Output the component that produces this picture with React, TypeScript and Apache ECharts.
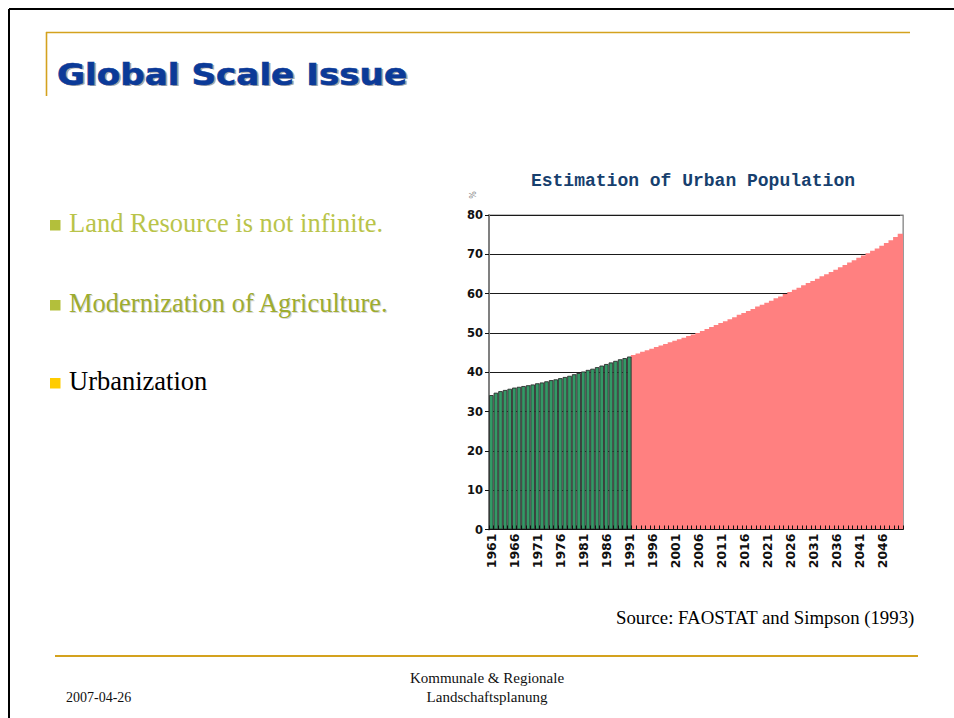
import React, { useEffect, useRef } from "react";
import * as echarts from "echarts";

// Years on the category axis, 1961–2050
const years: string[] = [];
for (let y = 1961; y <= 2050; y++) years.push(String(y));

// Urban share of world population (%), recorded 1961–1991
const urbanObserved = [
  34.2, 34.8, 35.2, 35.5, 35.8, 36.1, 36.3, 36.5, 36.7, 36.9,
  37.2, 37.4, 37.7, 38.0, 38.2, 38.5, 38.8, 39.1, 39.5, 39.8,
  40.2, 40.6, 40.9, 41.3, 41.7, 42.1, 42.5, 42.9, 43.3, 43.6,
  44.0,
];

// Projected urban share (%), 1992–2050
const urbanProjected = [
  44.4, 44.8, 45.2, 45.6, 46.0, 46.4, 46.8, 47.2, 47.6, 48.0,
  48.4, 48.8, 49.2, 49.6, 50.0, 50.5, 51.0, 51.5, 52.0, 52.5,
  53.0, 53.5, 54.0, 54.6, 55.1, 55.6, 56.1, 56.7, 57.2, 57.7,
  58.2, 58.8, 59.3, 59.9, 60.4, 61.0, 61.5, 62.1, 62.7, 63.2,
  63.8, 64.4, 64.9, 65.5, 66.1, 66.7, 67.3, 67.9, 68.5, 69.1,
  69.7, 70.3, 70.9, 71.5, 72.2, 72.9, 73.6, 74.4, 75.2,
];

const bullets = [
  "Land Resource is not infinite.",
  "Modernization of Agriculture.",
  "Urbanization",
];

const GOLD = "#D4A21E";

export default function App() {
  const ref = useRef<HTMLDivElement>(null);

  useEffect(() => {
    if (!ref.current) return;
    const chart = echarts.init(ref.current, undefined, { renderer: "svg" });

    const observedData = years.map((_, i) =>
      i < urbanObserved.length ? urbanObserved[i] : "-"
    );
    const projectedData = years.map((_, i) =>
      i >= urbanObserved.length ? urbanProjected[i - urbanObserved.length] : "-"
    );

    const axisFont = {
      fontFamily: "DejaVu Sans",
      fontWeight: "bold" as const,
      fontSize: 11,
      color: "#111",
    };

    const bulletBaselines = [232, 312, 390];
    const bulletSquareColors = ["#B3BF3B", "#B3BF3B", "#FFCC00"];
    const bulletTextColors = ["#B9C44A", "#9DAC30", "#000000"];

    const graphic: any[] = [
      // slide frame
      {
        type: "line",
        shape: { x1: 9, y1: 9, x2: 954, y2: 9 },
        style: { stroke: "#000", lineWidth: 2 },
      },
      {
        type: "line",
        shape: { x1: 9, y1: 9, x2: 9, y2: 718 },
        style: { stroke: "#000", lineWidth: 2 },
      },
      // gold header rule
      {
        type: "line",
        shape: { x1: 46, y1: 32.5, x2: 910, y2: 32.5 },
        style: { stroke: GOLD, lineWidth: 1.6 },
      },
      {
        type: "line",
        shape: { x1: 46.5, y1: 32, x2: 46.5, y2: 96 },
        style: { stroke: GOLD, lineWidth: 1.6 },
      },
      // slide title with drop shadow
      {
        type: "text",
        x: 59,
        y: 76,
        scaleX: 1.14,
        style: {
          text: "Global Scale Issue",
          font: "bold 30px 'DejaVu Sans'",
          fill: "#A8A8A8",
          verticalAlign: "middle",
        },
      },
      {
        type: "text",
        x: 57,
        y: 74.5,
        scaleX: 1.14,
        style: {
          text: "Global Scale Issue",
          font: "bold 30px 'DejaVu Sans'",
          fill: "#0B3A98",
          stroke: "#0B3A98",
          lineWidth: 0.6,
          verticalAlign: "middle",
        },
      },
      // footer rule and texts
      {
        type: "line",
        shape: { x1: 55, y1: 656, x2: 918, y2: 656 },
        style: { stroke: GOLD, lineWidth: 2 },
      },
      {
        type: "text",
        x: 66,
        y: 697,
        style: {
          text: "2007-04-26",
          font: "14px 'Liberation Serif'",
          fill: "#111",
          verticalAlign: "middle",
        },
      },
      {
        type: "text",
        x: 487,
        y: 678,
        style: {
          text: "Kommunale & Regionale",
          font: "15px 'Liberation Serif'",
          fill: "#111",
          align: "center",
          verticalAlign: "middle",
        },
      },
      {
        type: "text",
        x: 487,
        y: 697,
        style: {
          text: "Landschaftsplanung",
          font: "15px 'Liberation Serif'",
          fill: "#111",
          align: "center",
          verticalAlign: "middle",
        },
      },
      // source note
      {
        type: "text",
        x: 616,
        y: 617,
        style: {
          text: "Source: FAOSTAT and Simpson (1993)",
          font: "18.8px 'Liberation Serif'",
          fill: "#000",
          verticalAlign: "middle",
        },
      },
      // chart title
      {
        type: "text",
        x: 693,
        y: 181,
        style: {
          text: "Estimation of Urban Population",
          font: "bold 18px 'Liberation Mono'",
          fill: "#173F6E",
          align: "center",
          verticalAlign: "middle",
        },
      },
      // unit mark above the value axis
      {
        type: "text",
        x: 473,
        y: 195,
        rotation: Math.PI / 2,
        style: {
          text: "%",
          font: "8px 'DejaVu Sans'",
          fill: "#888",
          align: "center",
          verticalAlign: "middle",
        },
      },
    ];

    bullets.forEach((label, i) => {
      const base = bulletBaselines[i];
      graphic.push({
        type: "rect",
        shape: { x: 50, y: base - 12, width: 10.5, height: 10.5 },
        style: { fill: bulletSquareColors[i] },
      });
      if (i === 1) {
        graphic.push({
          type: "text",
          x: 70,
          y: base - 8,
          style: {
            text: label,
            font: "26.5px 'Liberation Serif'",
            fill: "#D8D8D8",
            verticalAlign: "middle",
          },
        });
      }
      graphic.push({
        type: "text",
        x: 69,
        y: base - 9,
        style: {
          text: label,
          font: "26.5px 'Liberation Serif'",
          fill: bulletTextColors[i],
          verticalAlign: "middle",
        },
      });
    });

    chart.setOption({
      animation: false,
      backgroundColor: "#ffffff",
      grid: {
        left: 489,
        right: 51,
        top: 215,
        bottom: 188.5,
        show: true,
        borderColor: "#808080",
        borderWidth: 1,
        containLabel: false,
      },
      xAxis: [
        {
          type: "category",
          data: years,
          boundaryGap: true,
          axisLine: { lineStyle: { color: "#111", width: 1 } },
          axisTick: {
            show: true,
            inside: true,
            length: 4,
            interval: 0,
            lineStyle: { color: "#111" },
          },
          axisLabel: {
            ...axisFont,
            fontSize: 12.5,
            interval: 4,
            rotate: 90,
            margin: 4,
          },
          splitLine: { show: false },
          z: 5,
        },
        {
          // same categories, used only to lay out the projected bars
          type: "category",
          data: years,
          boundaryGap: true,
          show: false,
        },
      ],
      yAxis: [
        {
          type: "value",
          min: 0,
          max: 80,
          interval: 10,
          axisLine: { show: true, lineStyle: { color: "#808080", width: 2 } },
          axisTick: { show: true, length: 4, lineStyle: { color: "#111" } },
          axisLabel: { ...axisFont, fontSize: 11.5, margin: 6 },
          splitLine: { show: true, lineStyle: { color: "#1a1a1a", width: 1 } },
        },
        {
          type: "value",
          position: "right",
          min: 0,
          max: 80,
          interval: 10,
          axisLine: { show: true, lineStyle: { color: "#9a9a9a", width: 1 } },
          axisTick: { show: true, inside: true, length: 3, lineStyle: { color: "#777" } },
          axisLabel: { show: false },
          splitLine: { show: false },
        },
      ],
      series: [
        {
          name: "Observed",
          type: "bar",
          data: observedData,
          barCategoryGap: "0%",
          itemStyle: { color: "#339966", borderColor: "#2e2e2e", borderWidth: 0.9 },
          z: 3,
        },
        {
          name: "Projected",
          type: "bar",
          xAxisIndex: 1,
          data: projectedData,
          barWidth: 6,
          itemStyle: { color: "#FF8080" },
          z: 2,
        },
      ],
      graphic,
    });

    return () => chart.dispose();
  }, []);

  return (
    <div
      ref={ref}
      style={{ position: "fixed", left: 0, top: 0, width: 954, height: 718 }}
    />
  );
}
